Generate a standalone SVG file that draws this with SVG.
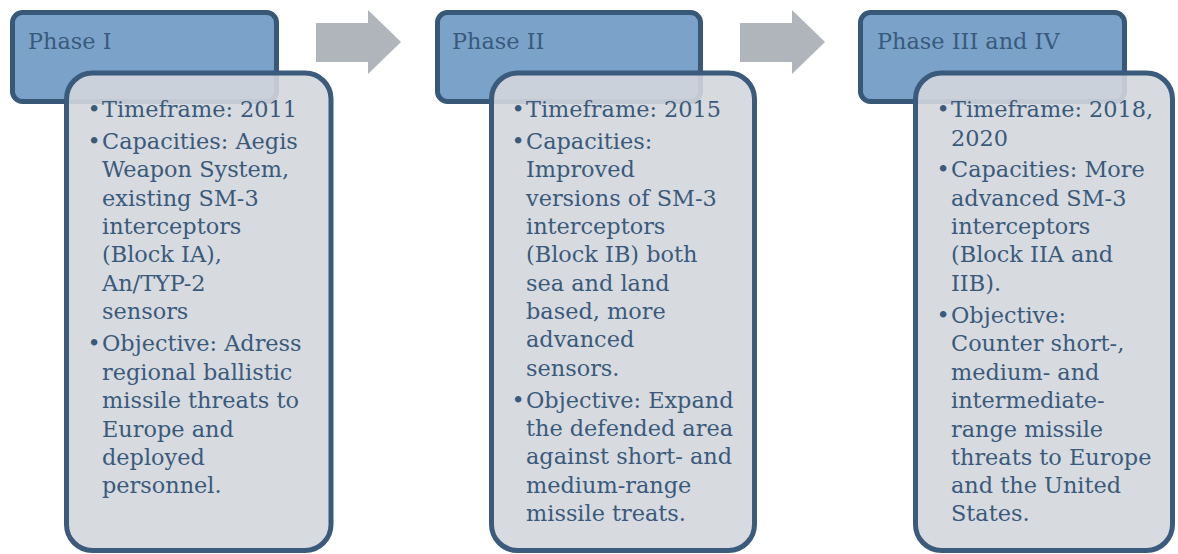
<svg xmlns="http://www.w3.org/2000/svg" width="1178" height="554" viewBox="0 0 1178 554">
<style>
.hdr{fill:#7ba3c9;stroke:#385878;stroke-width:5}
.det{fill:#d3d6dc;fill-opacity:0.9;stroke:#3b5b7c;stroke-width:5}
.arr{fill:#b0b5bc}
text{font-family:"DejaVu Serif","Liberation Serif",serif;font-size:22.4px;fill:#3a5a7c}
.b{text-anchor:middle}
</style>
<rect width="1178" height="554" fill="#ffffff"/>
<g id="connectors">
<polygon class="arr" points="316,23 368,23 368,10 401,42 368,74 368,62 316,62"/>
<polygon class="arr" points="740,23 792,23 792,10 825,42 792,74 792,62 740,62"/>
</g>
<g id="phase1">
<rect class="hdr" x="12.5" y="12.5" width="264" height="89" rx="10"/>
<text x="28" y="49">Phase I</text>
<rect class="det" x="66.5" y="73" width="264.5" height="477.5" rx="26"/>
<text class="b" x="94" y="117">•</text>
<text x="102" y="117">Timeframe: 2011</text>
<text class="b" x="94" y="149">•</text>
<text x="102" y="149">Capacities: Aegis</text>
<text x="102" y="177.3">Weapon System,</text>
<text x="102" y="205.6">existing SM-3</text>
<text x="102" y="234">interceptors</text>
<text x="102" y="262.3">(Block IA),</text>
<text x="102" y="290.6">An/TYP-2</text>
<text x="102" y="319">sensors</text>
<text class="b" x="94" y="351">•</text>
<text x="102" y="351">Objective: Adress</text>
<text x="102" y="379.5">regional ballistic</text>
<text x="102" y="408">missile threats to</text>
<text x="102" y="436.5">Europe and</text>
<text x="102" y="465">deployed</text>
<text x="102" y="493">personnel.</text>
</g>
<g id="phase2">
<rect class="hdr" x="437.5" y="12.5" width="263" height="89" rx="10"/>
<text x="452" y="49">Phase II</text>
<rect class="det" x="491.5" y="73" width="263" height="477.5" rx="26"/>
<text class="b" x="518" y="117">•</text>
<text x="526" y="117">Timeframe: 2015</text>
<text class="b" x="518" y="149">•</text>
<text x="526" y="149">Capacities:</text>
<text x="526" y="177.3">Improved</text>
<text x="526" y="205.6">versions of SM-3</text>
<text x="526" y="234">interceptors</text>
<text x="526" y="262.3">(Block IB) both</text>
<text x="526" y="290.6">sea and land</text>
<text x="526" y="319">based, more</text>
<text x="526" y="347.3">advanced</text>
<text x="526" y="375.6">sensors.</text>
<text class="b" x="518" y="407.5">•</text>
<text x="526" y="407.5">Objective: Expand</text>
<text x="526" y="436">the defended area</text>
<text x="526" y="464.3">against short- and</text>
<text x="526" y="492.6">medium-range</text>
<text x="526" y="521">missile treats.</text>
</g>
<g id="phase3">
<rect class="hdr" x="860.5" y="12.5" width="264" height="89" rx="10"/>
<text x="877" y="49">Phase III and IV</text>
<rect class="det" x="915.5" y="73" width="257" height="477.5" rx="26"/>
<text class="b" x="943" y="117">•</text>
<text x="951" y="117">Timeframe: 2018,</text>
<text x="951" y="145.6">2020</text>
<text class="b" x="943" y="177.3">•</text>
<text x="951" y="177.3">Capacities: More</text>
<text x="951" y="205.6">advanced SM-3</text>
<text x="951" y="234">interceptors</text>
<text x="951" y="262.3">(Block IIA and</text>
<text x="951" y="290.6">IIB).</text>
<text class="b" x="943" y="322.5">•</text>
<text x="951" y="322.5">Objective:</text>
<text x="951" y="351">Counter short-,</text>
<text x="951" y="379.5">medium- and</text>
<text x="951" y="408">intermediate-</text>
<text x="951" y="436.5">range missile</text>
<text x="951" y="465">threats to Europe</text>
<text x="951" y="493">and the United</text>
<text x="951" y="521">States.</text>
</g>
</svg>
